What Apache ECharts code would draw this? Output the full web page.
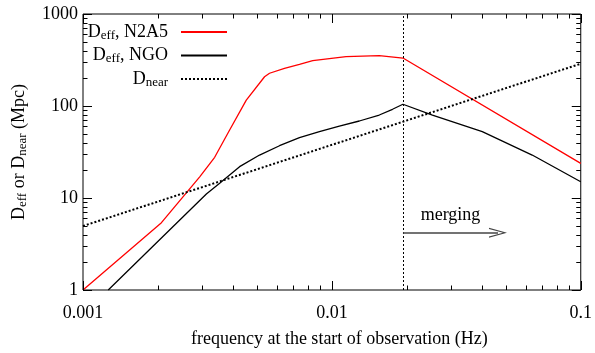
<!DOCTYPE html>
<html>
<head>
<meta charset="utf-8">
<script src="https://cdn.jsdelivr.net/npm/echarts@6/dist/echarts.min.js"></script>
<style>
  html, body { margin: 0; padding: 0; background: #fff; }
  #chart { width: 595px; height: 353px; }
</style>
</head>
<body>
<div id="chart"></div>
<script>
// ---- data ----
const freqN2A5 = [0.001, 0.002066, 0.002944, 0.003381, 0.003883, 0.00453, 0.005364, 0.005617, 0.006449, 0.007409, 0.008375, 0.0114, 0.0155, 0.0193, 0.1];
const deffN2A5 = [1, 5.39, 17.0, 27.7, 54.8, 116, 208, 227, 257, 284, 311, 344, 352, 332, 23.8];

const freqNGO = [0.001263, 0.003131, 0.003541, 0.004258, 0.005122, 0.00616, 0.007409, 0.008911, 0.010717, 0.01289, 0.015503, 0.017524, 0.0193, 0.02535, 0.04021, 0.06381, 0.1];
const deffNGO = [1, 11.05, 14.45, 21.9, 29.3, 37.0, 45.2, 52.6, 60.6, 68.7, 79.8, 92.1, 104.5, 79.8, 52.6, 29.3, 15.0];

const freqNear = [0.001, 0.1];
const dNear = [4.96, 288];

const mergeFreq = 0.0193;
const arrowStart = [0.0193, 4.2];
const arrowEnd = [0.0465, 4.2];

const xTickLabels = ['0.001', '0.01', '0.1'];
const yTickLabels = ['1', '10', '100', '1000'];
const xMajorTicks = [0.001, 0.01, 0.1];
const xMinorTicks = [0.002, 0.003, 0.004, 0.005, 0.006, 0.007, 0.008, 0.009,
                     0.02, 0.03, 0.04, 0.05, 0.06, 0.07, 0.08, 0.09];
const yMajorTicks = [1, 10, 100, 1000];
const yMinorTicks = [2, 3, 4, 5, 6, 7, 8, 9, 20, 30, 40, 50, 60, 70, 80, 90,
                     200, 300, 400, 500, 600, 700, 800, 900];

const seriesNames = ['Deff, N2A5', 'Deff, NGO', 'Dnear'];
const legendRich = {
  'Deff, N2A5': '{n|D}{s|eff}{n|, N2A5}{g| }',
  'Deff, NGO': '{n|D}{s|eff}{n|, NGO}{g| }',
  'Dnear': '{n|D}{s|near}{g| }'
};

// ---- build ----
const FONT = 'Liberation Serif';
const FS = 18;
const zip = (a, b) => a.map((v, i) => [v, b[i]]);
const pickLabel = (labels, v) => {
  const s = labels.find(l => Math.abs(Math.log10(+l) - Math.log10(v)) < 0.01);
  return s || '';
};
const rich = {
  n: { fontFamily: FONT, fontSize: FS, lineHeight: 20, color: '#000' },
  s: { fontFamily: FONT, fontSize: 13, lineHeight: 10, verticalAlign: 'bottom', color: '#000' },
  g: { fontFamily: FONT, fontSize: 4, width: 8, lineHeight: 10, color: '#000' }
};

const tickData = []
  .concat(xMajorTicks.map(v => [v, 1, 0, 9]))
  .concat(xMinorTicks.map(v => [v, 1, 0, 4.5]))
  .concat(yMajorTicks.map(v => [0.01, v, 1, 9]))
  .concat(yMinorTicks.map(v => [0.01, v, 1, 4.5]));

const chart = echarts.init(document.getElementById('chart'), null, { renderer: 'canvas' });
chart.setOption({
  animation: false,
  backgroundColor: '#fff',
  grid: { left: 83, right: 13, top: 14, bottom: 63, show: true, borderColor: '#000', borderWidth: 1, backgroundColor: 'transparent' },
  legend: {
    data: seriesNames,
    orient: 'vertical',
    align: 'right',
    right: 367,
    top: 23,
    padding: 0,
    itemGap: 4.5,
    itemWidth: 46,
    itemHeight: 14,
    itemStyle: { opacity: 0 },
    formatter: name => legendRich[name],
    textStyle: { fontFamily: FONT, fontSize: FS, color: '#000', rich: rich }
  },
  xAxis: {
    type: 'log', logBase: 10, min: 0.001, max: 0.1,
    axisLine: { show: false }, axisTick: { show: false }, splitLine: { show: false },
    axisLabel: { fontFamily: FONT, fontSize: FS, color: '#000', margin: 14, showMinLabel: true, showMaxLabel: true,
                 formatter: v => pickLabel(xTickLabels, v) },
    name: 'frequency at the start of observation (Hz)',
    nameLocation: 'middle', nameGap: 40,
    nameTextStyle: { fontFamily: FONT, fontSize: FS, color: '#000', padding: [0, 0, 0, 15] }
  },
  yAxis: {
    type: 'log', logBase: 10, min: 1, max: 1000,
    axisLine: { show: false }, axisTick: { show: false }, splitLine: { show: false },
    axisLabel: { fontFamily: FONT, fontSize: FS, color: '#000', margin: 5, showMinLabel: true, showMaxLabel: true,
                 formatter: v => pickLabel(yTickLabels, v) },
    name: '{n|D}{s|eff}{n| or D}{s|near}{n| (Mpc)}',
    nameLocation: 'middle', nameGap: 54,
    nameTextStyle: { fontFamily: FONT, fontSize: FS, color: '#000', rich: rich }
  },
  series: [
    {
      name: seriesNames[0], type: 'line', data: zip(freqN2A5, deffN2A5),
      showSymbol: false, symbol: 'none', color: '#ff0000',
      lineStyle: { color: '#ff0000', width: 1.3 }, z: 3
    },
    {
      name: seriesNames[1], type: 'line', data: zip(freqNGO, deffNGO),
      showSymbol: false, symbol: 'none', color: '#000',
      lineStyle: { color: '#000', width: 1.3 }, z: 3
    },
    {
      name: seriesNames[2], type: 'line', data: zip(freqNear, dNear),
      showSymbol: false, symbol: 'none', color: '#000',
      lineStyle: { color: '#000', width: 2, type: [2, 2] }, z: 3,
      markLine: {
        silent: true,
        animation: false,
        data: [
          [
            { coord: [mergeFreq, 1], symbol: 'none', lineStyle: { color: '#000', width: 1, type: [2, 2] }, label: { show: false } },
            { coord: [mergeFreq, 1000], symbol: 'none' }
          ],
          [
            { coord: arrowStart, symbol: 'none', lineStyle: { color: '#444', width: 1.5, type: 'solid' },
              label: { show: true, position: 'insideMiddleTop', distance: 8, formatter: 'merging',
                       fontFamily: FONT, fontSize: FS, color: '#000' } },
            { coord: arrowEnd, symbol: 'path://M0,20 L10,0 L20,20 L17.5,20 L10,4.5 L2.5,20 Z', symbolSize: [10, 18] }
          ]
        ]
      }
    },
    {
      type: 'custom', silent: true, clip: false, z: 5,
      data: tickData,
      encode: { x: 0, y: 1 },
      renderItem: function (params, api) {
        const cs = params.coordSys;
        const kind = api.value(2), len = api.value(3);
        const st = { stroke: '#000', lineWidth: 1 };
        if (kind === 0) {
          const px = Math.round(api.coord([api.value(0), 1])[0]) + 0.5;
          return { type: 'group', children: [
            { type: 'line', shape: { x1: px, y1: cs.y + cs.height, x2: px, y2: cs.y + cs.height - len }, style: st },
            { type: 'line', shape: { x1: px, y1: cs.y, x2: px, y2: cs.y + len }, style: st }
          ]};
        }
        const py = Math.round(api.coord([0.01, api.value(1)])[1]) + 0.5;
        return { type: 'group', children: [
          { type: 'line', shape: { x1: cs.x, y1: py, x2: cs.x + len, y2: py }, style: st },
          { type: 'line', shape: { x1: cs.x + cs.width, y1: py, x2: cs.x + cs.width - len, y2: py }, style: st }
        ]};
      }
    }
  ]
});
</script>
</body>
</html>
